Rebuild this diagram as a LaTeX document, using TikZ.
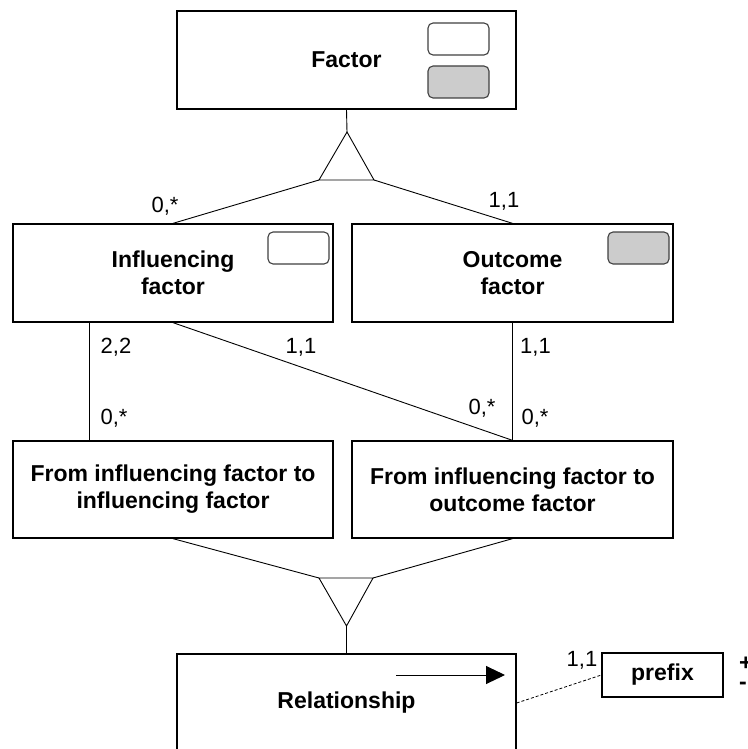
\documentclass[tikz,border=0pt]{standalone}
\usepackage{fontspec}
\setmainfont{Liberation Sans}
\usetikzlibrary{arrows.meta}
\begin{document}
\begin{tikzpicture}[x=1pt,y=-1pt,
  box/.style={draw,line width=1.3pt,inner sep=0pt,align=center,
    font=\fontsize{23}{27}\selectfont\bfseries},
  icon/.style={draw=black!75,line width=1.1pt,rounded corners=5pt,
    minimum width=61pt,minimum height=32pt,inner sep=0pt},
  plain/.style={icon,fill=white},
  shaded/.style={icon,fill=black!20},
  link/.style={line width=0.9pt},
  card/.style={font=\fontsize{22}{26}\selectfont,inner sep=0pt}]
\useasboundingbox (0,0) rectangle (747,749);
\clip (0,0) rectangle (747,749);

% entity boxes
\node[box,minimum width=339pt,minimum height=98pt] (factor) at (346.5,60) {Factor};
\node[box,minimum width=320pt,minimum height=98pt] (infl) at (173,273) {Influencing\\factor};
\node[box,minimum width=321pt,minimum height=98pt] (outc) at (512.5,273) {Outcome\\factor};
\node[box,minimum width=320pt,minimum height=97pt] (ftoi) at (173,489.5) {From influencing factor to\\influencing factor};
\node[box,minimum width=321pt,minimum height=97pt] (ftoo) at (512.5,489.5) {From influencing factor to\\outcome factor};
\node[box,minimum width=339pt,minimum height=98pt] (rel) at (346.5,703) {Relationship};
\node[box,minimum width=121pt,minimum height=44pt] (prefix) at (662.5,675) {prefix};

% marker icons
\node[plain] (fwhite) at (458.5,39) {};
\node[shaded] (fgrey) at (458.5,82) {};
\node[plain] (iwhite) at (298.5,248) {};
\node[shaded] (ogrey) at (638.5,248) {};

% upper generalisation triangle
\coordinate (ta) at (347,132);
\coordinate (tl) at (319,180);
\coordinate (tr) at (374,180);
\draw[link] (ta) -- (tl) -- (tr) -- cycle;
\draw[link] (factor.south) -- (ta);
\draw[link] (tl) -- (infl.north);
\draw[link] (tr) -- (outc.north);

% lower generalisation triangle
\coordinate (ba) at (346.5,626);
\coordinate (bl) at (319,578);
\coordinate (br) at (373,578);
\draw[link] (ba) -- (bl) -- (br) -- cycle;
\draw[link] (ftoi.south) -- (bl);
\draw[link] (ftoo.south) -- (br);
\draw[link] (ba) -- (rel.north);

% associations
\coordinate (lx) at (89,0);
\draw[link] (lx |- infl.south) -- (lx |- ftoi.north);
\draw[link] (infl.south) -- (ftoo.north);
\draw[link] (outc.south) -- (ftoo.north);
\draw[line width=0.8pt,dash pattern=on 3pt off 2pt] (rel.east) -- (prefix.west);

% direction arrow inside the relationship box
\coordinate (a1) at (396,675);
\coordinate (a2) at (505,675);
\draw[line width=1pt,-{Triangle[length=19pt,width=18pt]}] (a1) -- (a2);

% cardinalities
\node[card] (c1) at (165,206) {0,*};
\node[card] (c2) at (504,201) {1,1};
\node[card] (c3) at (116,347) {2,2};
\node[card] (c4) at (301,347) {1,1};
\node[card] (c5) at (535.5,347) {1,1};
\node[card] (c6) at (114,418) {0,*};
\node[card] (c7) at (482,408) {0,*};
\node[card] (c8) at (535,418) {0,*};
\node[card] (c9) at (582,660) {1,1};

% attribute markers
\node[anchor=base west,inner sep=0pt,font=\fontsize{23}{27}\selectfont\bfseries] (plus) at (739,670) {+};
\node[anchor=base west,inner sep=0pt,font=\fontsize{23}{27}\selectfont\bfseries] (minus) at (739,689) {-};
\end{tikzpicture}
\end{document}
